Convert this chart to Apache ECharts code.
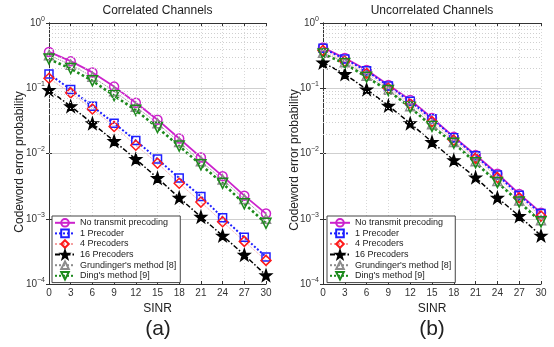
<!DOCTYPE html>
<html>
<head>
<meta charset="utf-8">
<script src="https://cdn.jsdelivr.net/npm/echarts@6/dist/echarts.min.js"></script>
<style>
  html, body { margin: 0; padding: 0; background: #fff; }
  #chart { width: 554px; height: 347px; }
</style>
</head>
<body>
<div id="chart"></div>
<script>
// SINR values on the x axis
const sinr = [0, 3, 6, 9, 12, 15, 18, 21, 24, 27, 30];
const seriesNames = ['No transmit precoding', '1 Precoder', '4 Precoders', '16 Precoders', "Grundinger's method [8]", "Ding's method [9]"];

// (a) correlated channels
const corrNone = [0.36, 0.26, 0.175, 0.106, 0.060, 0.033, 0.017, 0.0087, 0.0045, 0.00226, 0.0012];
const corr1 = [0.165, 0.096, 0.053, 0.029, 0.0158, 0.0082, 0.0042, 0.0022, 0.00104, 0.00052, 0.00026];
const corr4 = [0.142, 0.085, 0.048, 0.026, 0.0134, 0.0071, 0.0035, 0.0018, 0.0009, 0.00045, 0.00023];
const corr16 = [0.094, 0.053, 0.029, 0.0155, 0.0082, 0.0042, 0.0021, 0.00107, 0.00055, 0.00028, 0.000136];
const corrGrund = [0.32, 0.23, 0.15, 0.09, 0.052, 0.029, 0.015, 0.0076, 0.004, 0.002, 0.001];
const corrDing = [0.28, 0.20, 0.13, 0.077, 0.046, 0.025, 0.013, 0.0067, 0.0035, 0.0017, 0.00085];

// (b) uncorrelated channels
const uncNone = [0.42, 0.29, 0.19, 0.112, 0.066, 0.035, 0.018, 0.0095, 0.0049, 0.0024, 0.00124];
const unc1 = [0.41, 0.28, 0.185, 0.108, 0.063, 0.034, 0.0175, 0.0092, 0.0047, 0.0023, 0.0012];
const unc4 = [0.38, 0.26, 0.17, 0.10, 0.058, 0.031, 0.016, 0.0085, 0.0043, 0.0021, 0.0011];
const unc16 = [0.247, 0.165, 0.096, 0.054, 0.029, 0.015, 0.0079, 0.0043, 0.0021, 0.0011, 0.00055];
const uncGrund = [0.35, 0.25, 0.155, 0.095, 0.053, 0.028, 0.015, 0.0076, 0.0038, 0.0019, 0.00095];
const uncDing = [0.335, 0.24, 0.148, 0.092, 0.051, 0.026, 0.0144, 0.0072, 0.0036, 0.0018, 0.0009];

// minor grid: multipliers per decade
const minorMult = [2, 3, 4, 5, 6, 7, 8, 9];
const decades = [-4, -3, -2, -1];

const FONT = 'Liberation Sans, Arial, sans-serif';
const STAR = 'path://M0,-10L2.35,-3.24L9.51,-3.09L3.8,1.24L5.88,8.09L0,4L-5.88,8.09L-3.8,1.24L-9.51,-3.09L-2.35,-3.24Z';
const TRI_DOWN = 'path://M0,0L10,0L5,9Z';

// styles for each curve (same for both panels)
const styles = [
  { color: '#cc22cc', symbol: 'circle', size: 9, line: 'solid', width: 1.8, fill: 'rgba(255,255,255,0)' },
  { color: '#1f1fff', symbol: 'rect', size: 8, line: 'dotted', width: 2, fill: 'rgba(255,255,255,0)' },
  { color: '#ff1a1a', symbol: 'diamond', size: 10, line: 'dotted', width: 1, fill: 'rgba(255,255,255,0)', lineColor: '#f4a0a0' },
  { color: '#000', symbol: STAR, size: 11, line: [5, 2, 1.5, 2], width: 1.5, fill: '#000' },
  { color: '#8c8c8c', symbol: 'triangle', size: 9, line: 'dotted', width: 1, fill: 'rgba(255,255,255,0)' },
  { color: '#1c8a1c', symbol: TRI_DOWN, size: 10, line: 'dotted', width: 2.6, fill: 'rgba(255,255,255,0)' }
];

function makeSeries(idx, vals, gi) {
  const s = styles[idx];
  return {
    name: seriesNames[idx],
    type: 'line',
    xAxisIndex: gi,
    yAxisIndex: gi,
    data: sinr.map((x, i) => [x, vals[i]]),
    symbol: s.symbol,
    symbolSize: s.size,
    showSymbol: true,
    z: 3,
    lineStyle: { color: s.lineColor || s.color, width: s.width, type: s.line },
    itemStyle: { color: s.fill, borderColor: s.color, borderWidth: 1.5 },
    emphasis: { disabled: true },
    animation: false
  };
}

// minor horizontal grid lines (dotted), drawn through the y axis scale
function gridSeries(gi) {
  const lines = [];
  decades.forEach(d => minorMult.forEach(m => lines.push({ yAxis: m * Math.pow(10, d) })));
  return {
    type: 'line',
    xAxisIndex: gi,
    yAxisIndex: gi,
    data: [],
    silent: true,
    z: 1,
    markLine: {
      silent: true,
      symbol: 'none',
      label: { show: false },
      lineStyle: { color: '#cfcfcf', type: [1, 2], width: 1 },
      data: lines,
      animation: false
    }
  };
}

const grids = [
  { left: 49, top: 23, width: 217, height: 261 },
  { left: 323, top: 23, width: 218, height: 261 }
];

function yLabel(v) {
  const e = Math.round(Math.log10(v));
  return '{b|10}{s|' + (e === 0 ? '0' : '\u2212' + (-e)) + '}';
}

const xAxes = [], yAxes = [];
[0, 1].forEach(gi => {
  xAxes.push({
    type: 'value', gridIndex: gi, min: 0, max: 30, interval: 3,
    name: 'SINR', nameLocation: 'middle', nameGap: 18,
    nameTextStyle: { fontSize: 12, color: '#222', fontFamily: FONT },
    axisLine: { show: true, lineStyle: { color: '#333', width: 1 } },
    axisTick: { show: true, inside: true, length: 3, lineStyle: { color: '#333' } },
    axisLabel: { fontSize: 10, color: '#333', margin: 4, fontFamily: FONT },
    splitLine: { show: true, lineStyle: { color: '#d8d8d8', type: [1, 2] } }
  });
  yAxes.push({
    type: 'log', logBase: 10, gridIndex: gi, min: 0.0001, max: 1,
    axisLine: { show: true, lineStyle: { color: '#333', width: 1 } },
    axisTick: { show: true, inside: true, length: 3, lineStyle: { color: '#333' } },
    axisLabel: {
      margin: 4, formatter: yLabel,
      rich: {
        b: { fontSize: 10, color: '#333', fontFamily: FONT },
        s: { fontSize: 7, color: '#333', fontFamily: FONT, padding: [0, 0, 8, 0] }
      }
    },
    splitLine: { show: true, lineStyle: { color: '#cfcfcf', width: 1 } }
  });
});
// box: top and right axes
[0, 1].forEach(gi => {
  xAxes.push({
    type: 'value', gridIndex: gi, min: 0, max: 30, interval: 3, position: 'top',
    axisLine: { show: true, lineStyle: { color: '#333', width: 1 } },
    axisTick: { show: true, inside: true, length: 3, lineStyle: { color: '#333' } },
    axisLabel: { show: false }, splitLine: { show: false }
  });
  yAxes.push({
    type: 'log', logBase: 10, gridIndex: gi, min: 0.0001, max: 1, position: 'right',
    axisLine: { show: true, lineStyle: { color: '#333', width: 1 } },
    axisTick: { show: true, inside: true, length: 3, lineStyle: { color: '#333' } },
    axisLabel: { show: false }, splitLine: { show: false }
  });
});

const series = [gridSeries(0), gridSeries(1)];
[corrNone, corr1, corr4, corr16, corrGrund, corrDing].forEach((v, i) => series.push(makeSeries(i, v, 0)));
[uncNone, unc1, unc4, unc16, uncGrund, uncDing].forEach((v, i) => series.push(makeSeries(i, v, 1)));

function legendAt(left) {
  return {
    data: seriesNames, orient: 'vertical', left: left, top: 216,
    backgroundColor: '#fff', borderColor: '#444', borderWidth: 1,
    padding: [2, 4, 2, 2], itemGap: 1, itemWidth: 20, itemHeight: 9.5,
    textStyle: { fontSize: 9, color: '#222', fontFamily: FONT },
    selectedMode: false, z: 10
  };
}

function txt(text, x, y, size, rot) {
  return {
    type: 'text', x: x, y: y, rotation: rot || 0, z: 20,
    style: { text: text, fontSize: size, fill: '#222', fontFamily: FONT, align: 'center', verticalAlign: 'middle' }
  };
}

const option = {
  animation: false,
  backgroundColor: '#fff',
  grid: grids,
  xAxis: xAxes,
  yAxis: yAxes,
  legend: [legendAt(52), legendAt(327)],
  series: series,
  graphic: [
    txt('Correlated Channels', 157.5, 11, 12),
    txt('Uncorrelated Channels', 432, 11, 12),
    txt('Codeword error probability', 20, 162, 12, Math.PI / 2),
    txt('Codeword error probability', 295, 160, 12, Math.PI / 2),
    txt('(a)', 158, 329, 21),
    txt('(b)', 432, 329, 21)
  ]
};

const chart = echarts.init(document.getElementById('chart'), null, { renderer: 'canvas' });
chart.setOption(option);
</script>
</body>
</html>
